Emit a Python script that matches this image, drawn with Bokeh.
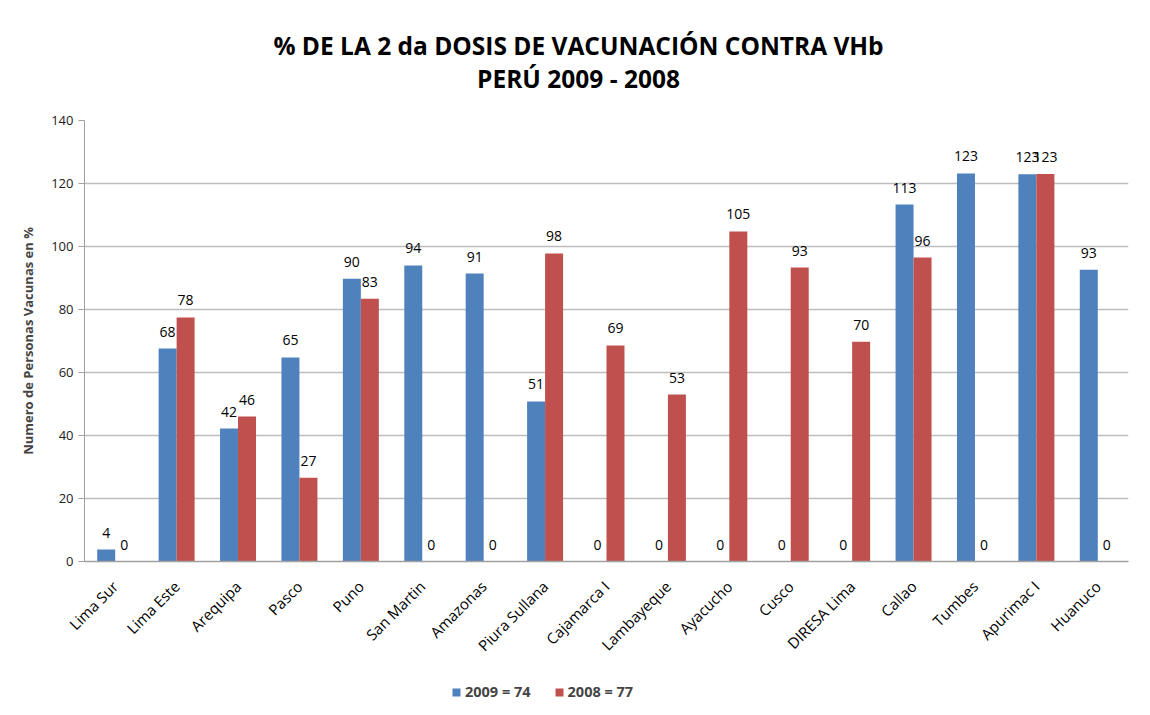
import numpy as np
from bokeh.plotting import figure
from bokeh.layouts import column
from bokeh.models import Range1d, FixedTicker, Label, Legend, LegendItem, ColumnDataSource
from bokeh.core.properties import value
from bokeh.embed import file_html
from bokeh.resources import INLINE

regions = ["Lima Sur", "Lima Este", "Arequipa", "Pasco", "Puno", "San Martin", "Amazonas",
           "Piura Sullana", "Cajamarca I", "Lambayeque", "Ayacucho", "Cusco", "DIRESA Lima",
           "Callao", "Tumbes", "Apurimac I", "Huanuco"]
v2009 = [3.8, 67.6, 42.2, 64.8, 89.8, 94.0, 91.4, 50.8, 0, 0, 0, 0, 0, 113.3, 123.2, 122.9, 92.6]
v2008 = [0, 77.5, 46.0, 26.6, 83.4, 0, 0, 97.8, 68.6, 53.0, 104.8, 93.3, 69.8, 96.5, 0, 123.0, 0]
legend_2009 = "2009 = 74"
legend_2008 = "2008 = 77"
title_1 = "% DE LA 2 da DOSIS DE VACUNACIÓN CONTRA VHb"
title_2 = "PERÚ 2009 - 2008"
y_label = "Numero de Personas Vacunas en %"

BLUE = "#4F81BD"
RED = "#C0504D"
FONT = "Open Sans"
W = 1134
LEFT, RIGHT = 84, 6


def strip(height):
    f = figure(width=W, height=height, output_backend="svg", toolbar_location=None,
               x_range=Range1d(LEFT, W - RIGHT), y_range=Range1d(height, 0),
               min_border_left=LEFT, min_border_right=RIGHT, min_border_top=0, min_border_bottom=0)
    f.axis.visible = False
    f.grid.grid_line_color = None
    f.outline_line_color = None
    f.border_fill_color = "white"
    f.background_fill_color = "white"
    return f


# ---- title strip ----
t = strip(110)
for txt, yy in ((title_1, 45), (title_2, 78)):
    t.add_layout(Label(x=578, y=yy, text=txt, text_align="center", text_baseline="middle",
                       text_font=FONT, text_font_size="24.5px", text_font_style="bold",
                       text_color="#000000"))

# ---- main chart ----
n = len(regions)
centers = np.arange(n) + 0.5
bw = 0.293

p = figure(width=W, height=555, output_backend="svg", toolbar_location=None,
           x_range=Range1d(0, n), y_range=Range1d(0, 140),
           min_border_left=LEFT, min_border_right=RIGHT, min_border_top=10, min_border_bottom=104)
p.outline_line_color = None
p.background_fill_color = "white"
p.border_fill_color = "white"

src09 = ColumnDataSource(dict(x=centers - bw / 2, top=v2009,
                              lab=[str(int(round(v))) for v in v2009]))
src08 = ColumnDataSource(dict(x=centers + bw / 2, top=v2008,
                              lab=[str(int(round(v))) for v in v2008]))

r09 = p.vbar(x="x", top="top", width=bw, source=src09, fill_color=BLUE, line_color=None)
r08 = p.vbar(x="x", top="top", width=bw, source=src08, fill_color=RED, line_color=None)

for s in (src09, src08):
    p.text(x="x", y="top", text="lab", source=s, text_align="center", text_baseline="bottom",
           y_offset=-12, text_font=value(FONT), text_font_size="14px", text_color="#000000")

p.xaxis.ticker = FixedTicker(ticks=list(centers))
p.xaxis.major_label_overrides = {float(c): r for c, r in zip(centers, regions)}
p.xaxis.major_label_orientation = np.pi / 4
p.xaxis.major_tick_line_color = None
p.xaxis.minor_tick_line_color = None
p.xaxis.axis_line_color = "#a0a0a0"
p.xaxis.axis_line_width = 1.5
p.xaxis.major_label_text_font = FONT
p.xaxis.major_label_text_font_size = "15px"
p.xaxis.major_label_text_color = "#000000"
p.xaxis.major_label_standoff = 16

p.yaxis.ticker = FixedTicker(ticks=list(range(0, 141, 20)))
p.yaxis.minor_tick_line_color = None
p.yaxis.axis_line_color = "#a0a0a0"
p.yaxis.major_tick_line_color = "#a0a0a0"
p.yaxis.major_tick_out = 6
p.yaxis.major_tick_in = 0
p.yaxis.major_label_text_font = FONT
p.yaxis.major_label_text_font_size = "13px"
p.yaxis.major_label_text_color = "#222222"
p.yaxis.major_label_standoff = 5
p.yaxis.axis_label = y_label
p.yaxis.axis_label_text_font = FONT
p.yaxis.axis_label_text_font_size = "13px"
p.yaxis.axis_label_text_font_style = "bold"
p.yaxis.axis_label_standoff = 11

p.xgrid.grid_line_color = None
p.ygrid.grid_line_color = "#bdbdbd"
p.ygrid.grid_line_width = 1.5

# ---- legend strip ----
q = strip(45)
l09 = q.vbar(x="x", top="top", width=1, source=ColumnDataSource(dict(x=[-100], top=[0])),
             fill_color=BLUE, line_color=None)
l08 = q.vbar(x="x", top="top", width=1, source=ColumnDataSource(dict(x=[-100], top=[0])),
             fill_color=RED, line_color=None)
legend = Legend(items=[LegendItem(label=legend_2009, renderers=[l09]),
                       LegendItem(label=legend_2008, renderers=[l08])],
                orientation="horizontal", location=(367, 9),
                label_text_font=FONT, label_text_font_size="14.5px", label_text_font_style="bold",
                glyph_width=10, glyph_height=10, spacing=23, label_standoff=4,
                border_line_color=None, background_fill_alpha=0, padding=4, margin=0)
q.add_layout(legend, "center")

layout = column(t, p, q, spacing=0)
open("out.html", "w").write(file_html(layout, INLINE))
